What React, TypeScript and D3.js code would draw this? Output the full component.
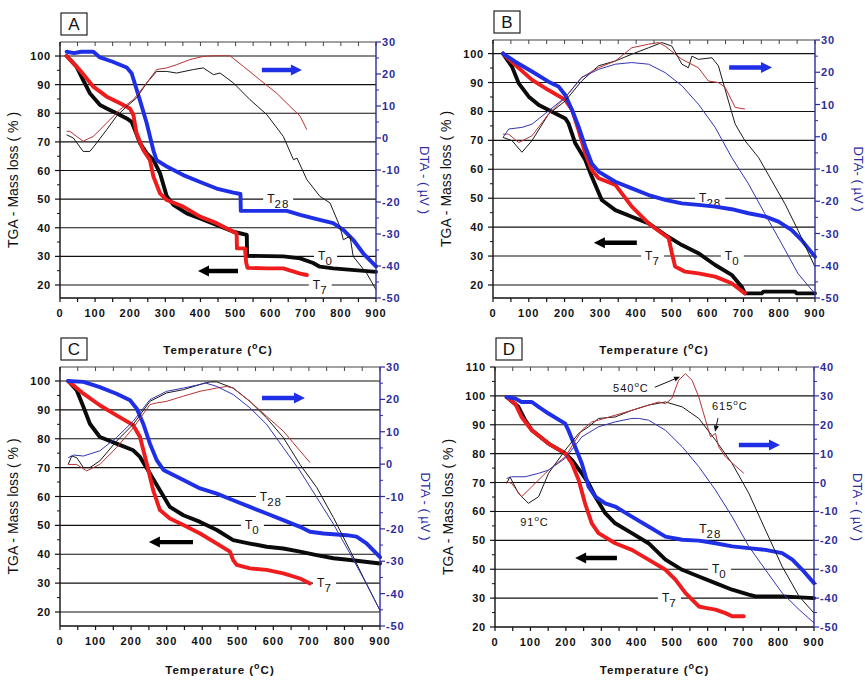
import React from 'react';
import * as d3 from 'd3';

type Pt = [number, number];

// ---------- Panel A (temperature °C, value) ----------
const aT0: Pt[] = [[19,100],[47,96.3],[66,91.6],[85,87],[114,82.9],[133,81.7],[161,80],[190,78.2],[204,77],[214,74],[228,69.5],[247,66],[266,63.7],[285,59],[304,51],[323,48],[361,45],[399,43.3],[446,41],[494,38.6],[532,37.5],[533,30.2],[636,30],[684,29.3],[721,27.7],[740,26.4],[778,25.8],[900,24.6]];
const aT7: Pt[] = [[19,100],[57,95],[95,89.3],[133,85.8],[171,83.5],[199,81.7],[209,79.4],[218,73],[237,67.2],[256,63.7],[266,57.9],[285,52],[304,49.7],[351,47.4],[399,43.9],[446,41.6],[494,38.6],[503,38],[504,32.8],[527,32.8],[530,28],[534,26],[589,25.8],[636,25.8],[684,24],[703,23.5]];
const aT28: Pt[] = [[19,101.5],[40,101],[60,101.5],[95,101.5],[114,99.5],[150,98],[190,96],[204,94],[228,84.4],[247,76.5],[266,67],[275,63.6],[304,61.4],[351,58.4],[399,56],[446,53.7],[494,52.3],[514,51.8],[515,45.9],[646,45.9],[684,44.5],[731,43],[778,41.6],[807,39.3],[835,35.8],[864,31],[900,26.5]];
const aDtaT0: Pt[] = [[19,1],[38,0],[66,-4.2],[85,-4.2],[104,-1.6],[133,2.6],[161,6.8],[190,9.9],[218,12.5],[247,17.2],[275,20.8],[304,20.8],[332,20.3],[380,21.4],[408,21.9],[437,19.8],[456,20.3],[494,17.2],[541,12],[589,7.3],[636,0.5],[665,-6.8],[675,-6.3],[703,-13],[740,-18.2],[769,-20.3],[797,-27.6],[807,-31.8],[826,-30.7],[835,-37],[873,-42.2],[900,-47.4]];
const aDtaT7: Pt[] = [[19,2.1],[28,2.1],[47,0.5],[66,-1],[95,0.5],[133,4.7],[171,8.9],[209,12],[247,17.2],[275,21.4],[304,21.9],[332,22.9],[370,24.5],[408,25.5],[437,25.7],[484,25.7],[522,22.4],[569,18.2],[617,14],[655,9.9],[684,6.8],[703,2.6]];

// ---------- Panel B ----------
const bT0: Pt[] = [[28,100],[53,95.5],[72,89.7],[100,85.1],[128,82.2],[165,79.9],[202,77.6],[211,75.9],[230,69],[258,63.2],[276,57.5],[304,49.4],[342,45.9],[388,43.6],[435,41.3],[481,37.3],[528,33.8],[574,31],[621,26.9],[667,23.5],[695,19.4],[704,17.1],[751,17.1],[756,17.7],[844,17.7],[849,17.1],[900,17.1]];
const bT7: Pt[] = [[28,100],[62,96.1],[109,90.9],[155,87.4],[202,84],[221,80.5],[239,73.6],[258,65.5],[276,59.8],[295,56.9],[342,54.6],[388,47.1],[435,41.3],[472,37.9],[491,36.2],[500,31],[509,26.4],[537,24.6],[574,24],[621,22.9],[667,20.6],[704,17.1]];
const bT28: Pt[] = [[28,100],[62,97.2],[109,93.8],[155,90.3],[183,88.6],[202,85.7],[221,80.5],[239,74.8],[258,67.8],[276,62],[295,59.2],[342,55.7],[388,53.4],[435,51.1],[481,49.4],[528,48.2],[574,47.7],[621,47.1],[667,46.2],[714,44.8],[760,43.7],[798,41.9],[835,39],[862,35.6],[900,29.8]];
const bDtaT0: Pt[] = [[28,-0.2],[53,-1.2],[81,-4.8],[109,-1.2],[155,7],[202,11.1],[248,17.3],[295,22],[342,23.5],[388,25.6],[435,27.6],[472,29.2],[500,28.1],[528,22.5],[546,21.4],[556,25],[574,24],[612,24.5],[630,22],[658,11.1],[677,3.9],[704,-1.2],[742,-6.4],[779,-13.6],[816,-20.8],[853,-29.1],[900,-40.4]];
const bDtaT7: Pt[] = [[28,0.8],[44,0.8],[72,-1.8],[109,0.3],[155,7],[202,12.2],[248,18.4],[295,21.4],[342,23.5],[388,27.6],[435,28.7],[463,29.2],[481,28.1],[528,24],[574,21.4],[602,17.3],[630,16.8],[649,15.3],[677,9.1],[704,8.6]];
const bDtaT28: Pt[] = [[28,-0.2],[44,2.4],[81,2.9],[109,3.9],[155,8],[202,12.2],[248,18.4],[295,20.9],[342,22.5],[388,23],[435,22.5],[481,19.9],[528,15.8],[574,10.1],[621,2.9],[667,-6.4],[714,-14.6],[760,-23.9],[807,-33.2],[853,-42.5],[900,-48.7]];

// ---------- Panel C ----------
const cT0: Pt[] = [[23,100],[47,96.8],[66,91],[84,85.2],[112,80.6],[159,78.3],[206,76],[225,73.7],[253,68],[281,62.2],[309,56.4],[347,53.5],[394,51.2],[441,48.4],[487,44.9],[534,43.7],[581,42.6],[628,42],[675,40.9],[722,39.7],[769,38.6],[816,38],[900,36.8]];
const cT7: Pt[] = [[23,100],[66,95.6],[112,91.6],[159,88.1],[206,84.7],[225,80.6],[244,71.4],[262,62.2],[281,55.3],[309,52.4],[347,50.1],[394,47.2],[441,43.7],[478,40.9],[487,38],[497,36.3],[534,35.1],[581,34.6],[628,33.4],[675,31.6],[703,29.9]];
const cT28: Pt[] = [[23,100],[66,99.7],[112,97.9],[159,95.6],[197,93.3],[216,90.4],[234,85.2],[253,78.3],[272,72.6],[291,69.2],[347,65.7],[394,62.8],[441,61],[487,58.7],[534,56.4],[581,54.1],[628,51.8],[675,49.5],[703,47.8],[741,47.2],[806,46.6],[834,46.1],[862,43.8],[900,39]];
const cDtaT0: Pt[] = [[23,-0.1],[33,2.5],[47,2],[66,-1.1],[84,-1.1],[112,1],[159,7.1],[206,12.3],[253,19.4],[300,22],[347,23],[394,24.6],[422,25.4],[441,25.4],[487,23.5],[534,19.4],[581,14.3],[628,8.2],[675,-0.1],[722,-7.2],[769,-16.5],[816,-26.7],[862,-37],[900,-45.2]];
const cDtaT7: Pt[] = [[23,-0.1],[47,-0.1],[75,-2.1],[112,-0.1],[159,5.1],[206,11.2],[253,18.4],[272,18.9],[300,19.4],[347,21],[394,22.5],[441,23.5],[469,24],[487,23.5],[534,19.4],[581,14.8],[628,10.2],[675,4.1],[703,0.5]];
const cDtaT28: Pt[] = [[23,2],[38,2.8],[66,2.5],[112,4.1],[159,8.2],[206,13.3],[253,19.9],[300,22.5],[347,23.5],[394,24.6],[408,25.1],[441,24],[487,21.5],[534,17.4],[581,12.3],[628,5.1],[675,-2.1],[722,-10.3],[769,-18.5],[816,-27.7],[862,-37],[900,-45.2]];

// ---------- Panel D ----------
const dT0: Pt[] = [[33,99.6],[66,96.2],[85,91.6],[104,88.1],[151,83.5],[198,80.1],[217,77.8],[245,73.2],[264,69.7],[283,65.1],[311,59.4],[339,55.9],[386,52.5],[433,49],[481,43.3],[528,39.8],[575,37.5],[622,35.2],[669,32.9],[716,31.2],[735,30.6],[810,30.6],[900,30]];
const dT7: Pt[] = [[33,99.6],[57,97.3],[75,92.7],[104,88.1],[151,83.5],[198,80.1],[217,76.6],[236,70.9],[254,62.8],[273,55.9],[292,52.5],[339,49],[386,46.7],[433,43.3],[481,39.8],[509,36.4],[537,31.8],[575,27.1],[594,26.6],[622,26],[650,24.8],[669,23.7],[702,23.7]];
const dT28: Pt[] = [[33,99.6],[57,99.1],[75,97.9],[104,97.9],[123,96.2],[151,93.9],[198,90.4],[207,88.1],[226,82.4],[245,76.6],[264,68.6],[283,65.1],[311,62.8],[339,61.7],[386,58.2],[433,54.8],[481,51.3],[528,50.2],[575,49.9],[622,49],[669,47.9],[716,47.3],[763,46.7],[810,45.6],[839,43.3],[867,39.8],[900,35.2]];
const dDtaT0: Pt[] = [[33,-0.3],[42,2],[66,-3.7],[94,-7.2],[123,-4.9],[151,3.2],[198,11.2],[236,17],[264,19.3],[292,22.2],[339,22.7],[386,25],[433,26.8],[481,27.9],[528,26.2],[575,22.2],[622,14.7],[669,6.6],[716,-3.7],[763,-16.4],[810,-29],[858,-39.4],[900,-45.2]];
const dDtaT7: Pt[] = [[33,0.3],[47,-0.3],[75,-4.9],[104,-1.4],[151,4.3],[198,8.9],[245,18.1],[273,21],[292,21.6],[339,23.3],[386,25],[433,26.8],[462,27.9],[481,27.3],[499,29.1],[518,35.4],[537,37.7],[556,35.4],[575,29.6],[594,21.6],[608,15.8],[622,17],[631,12.4],[650,8.9],[702,3.2]];
const dDtaT28: Pt[] = [[33,1.4],[47,2],[85,2],[123,3.2],[151,4.3],[198,8.4],[245,15.8],[292,19.3],[339,21],[386,22.2],[405,22.2],[433,21.6],[481,18.1],[528,12.4],[575,5.5],[622,-2.6],[669,-11.8],[716,-22.1],[763,-30.2],[810,-38.2],[858,-44],[900,-48.6]];

// ---------- Tick values ----------
const tempTicks = [0, 100, 200, 300, 400, 500, 600, 700, 800, 900];
const tempMinor = [50, 150, 250, 350, 450, 550, 650, 750, 850];
const leftTicksABC = [20, 30, 40, 50, 60, 70, 80, 90, 100];
const leftTicksD = [20, 30, 40, 50, 60, 70, 80, 90, 100, 110];
const rightTicksABC = [-50, -40, -30, -20, -10, 0, 10, 20, 30];
const rightTicksD = [-50, -40, -30, -20, -10, 0, 10, 20, 30, 40];
const seriesNames = ['T0', 'T7', 'T28'];

const FONT = "'Liberation Sans', Arial, sans-serif";
const AXBLUE = '#2c2c9e';
const THICK = { T0: '#0a0a0a', T7: '#ee1c1c', T28: '#1f2fe6' };
const THIN = { T0: '#1a1a1a', T7: '#b83232', T28: '#3434b4' };

type Label = { name: string; t: number; v: number; gap: boolean };
type Arrow = { t0: number; t1: number; v: number; color: string };
type Note = { text: string; t: number; v: number; arrow?: [number, number, number, number] };

interface Cfg {
  letter: string;
  x0: number; x1: number; yTop: number; yBot: number;
  leftDomain: [number, number]; rightDomain: [number, number];
  leftTicks: number[]; rightTicks: number[]; grid: number[];
  tga: { T0: Pt[]; T7: Pt[]; T28: Pt[] };
  dta: { T0?: Pt[]; T7?: Pt[]; T28?: Pt[] };
  labels: Label[]; arrows: Arrow[]; notes: Note[];
  titleY: number; dtaTitle: string; dtaX: number;
}

const panels: Cfg[] = [
  {
    letter: 'A', x0: 60, x1: 376, yTop: 42, yBot: 298,
    leftDomain: [15.46, 104.9], rightDomain: [-50, 30],
    leftTicks: leftTicksABC, rightTicks: rightTicksABC, grid: [20, 30, 40, 50, 60, 70, 80, 90, 100],
    tga: { T0: aT0, T7: aT7, T28: aT28 }, dta: { T0: aDtaT0, T7: aDtaT7 },
    labels: [{ name: 'T28', t: 590, v: 50, gap: true }, { name: 'T0', t: 735, v: 30, gap: true }, { name: 'T7', t: 720, v: 20, gap: true }],
    arrows: [{ t0: 575, t1: 689, v: 95.1, color: THICK.T28 }, { t0: 507, t1: 393, v: 24.9, color: '#000' }],
    notes: [], titleY: 354, dtaTitle: 'DTA - ( µV )', dtaX: 420,
  },
  {
    letter: 'B', x0: 493, x1: 815, yTop: 40, yBot: 298,
    leftDomain: [15.5, 104.7], rightDomain: [-50, 30],
    leftTicks: leftTicksABC, rightTicks: rightTicksABC, grid: [20, 30, 40, 50, 60, 70, 80, 90, 100],
    tga: { T0: bT0, T7: bT7, T28: bT28 }, dta: { T0: bDtaT0, T7: bDtaT7, T28: bDtaT28 },
    labels: [{ name: 'T28', t: 576, v: 50, gap: true }, { name: 'T7', t: 425, v: 30, gap: true }, { name: 'T0', t: 648, v: 30, gap: true }],
    arrows: [{ t0: 660, t1: 780, v: 95.2, color: THICK.T28 }, { t0: 402, t1: 282, v: 34.6, color: '#000' }],
    notes: [], titleY: 354, dtaTitle: 'DTA- ( µV )', dtaX: 854,
  },
  {
    letter: 'C', x0: 60, x1: 380, yTop: 367, yBot: 626,
    leftDomain: [15.15, 104.85], rightDomain: [-50, 30],
    leftTicks: leftTicksABC, rightTicks: rightTicksABC, grid: [20, 30, 40, 50, 60, 70, 80, 90, 100],
    tga: { T0: cT0, T7: cT7, T28: cT28 }, dta: { T0: cDtaT0, T7: cDtaT7, T28: cDtaT28 },
    labels: [{ name: 'T28', t: 562, v: 60, gap: true }, { name: 'T0', t: 520, v: 50, gap: true }, { name: 'T7', t: 723, v: 30, gap: true }],
    arrows: [{ t0: 568, t1: 689, v: 94.1, color: THICK.T28 }, { t0: 374, t1: 250, v: 44.2, color: '#000' }],
    notes: [], titleY: 674, dtaTitle: 'DTA - ( µV )', dtaX: 421,
  },
  {
    letter: 'D', x0: 495, x1: 814, yTop: 367, yBot: 627,
    leftDomain: [20, 110], rightDomain: [-50, 40],
    leftTicks: leftTicksD, rightTicks: rightTicksD, grid: [30, 40, 50, 60, 70, 80, 90, 100],
    tga: { T0: dT0, T7: dT7, T28: dT28 }, dta: { T0: dDtaT0, T7: dDtaT7, T28: dDtaT28 },
    labels: [{ name: 'T28', t: 576, v: 54, gap: false }, { name: 'T0', t: 612, v: 40, gap: true }, { name: 'T7', t: 471, v: 30, gap: true }],
    arrows: [{ t0: 688, t1: 804, v: 83, color: THICK.T28 }, { t0: 344, t1: 226, v: 43.9, color: '#000' }],
    notes: [
      { text: '540', t: 333, v: 102.7, arrow: [451, 103, 522, 106.6] },
      { text: '615', t: 612, v: 96.5, arrow: [629, 92.3, 621, 87.6] },
      { text: '91', t: 71, v: 56.3 },
    ],
    titleY: 674, dtaTitle: 'DTA - ( µV )', dtaX: 853,
  },
];

function arrowPath(xa: number, xb: number, y: number): string {
  const dir = xb > xa ? 1 : -1;
  const headLen = 11;
  const xh = xb - dir * headLen;
  const s = 2.2, h = 5.5;
  return `M${xa},${y - s} L${xh},${y - s} L${xh},${y - h} L${xb},${y} L${xh},${y + h} L${xh},${y + s} L${xa},${y + s} Z`;
}

function Panel({ cfg }: { cfg: Cfg }) {
  const x = d3.scaleLinear().domain([0, 900]).range([cfg.x0, cfg.x1]);
  const yL = d3.scaleLinear().domain(cfg.leftDomain).range([cfg.yBot, cfg.yTop]);
  const yR = d3.scaleLinear().domain(cfg.rightDomain).range([cfg.yBot, cfg.yTop]);
  const lineL = d3.line<Pt>().x(d => x(d[0])).y(d => yL(d[1]));
  const lineR = d3.line<Pt>().x(d => x(d[0])).y(d => yR(d[1]));
  const midY = (cfg.yTop + cfg.yBot) / 2 + 10;
  const leftMinor = d3.range(cfg.leftTicks[0] - 5, cfg.leftTicks[cfg.leftTicks.length - 1], 10).filter(v => yL(v) <= cfg.yBot && yL(v) >= cfg.yTop);
  const rightMinor = d3.range(cfg.rightTicks[0] + 5, cfg.rightTicks[cfg.rightTicks.length - 1], 10);

  return (
    <g>
      {/* panel letter */}
      <rect x={cfg.x0 + 1} y={cfg.yTop - 29} width={26} height={22} fill="#fff" stroke="#222" strokeWidth={1.2} />
      <text x={cfg.x0 + 14} y={cfg.yTop - 12} textAnchor="middle" fontFamily={FONT} fontSize={17} fill="#111">{cfg.letter}</text>

      {/* gridlines */}
      {cfg.grid.map(v => (
        <line key={'g' + v} x1={cfg.x0} x2={cfg.x1} y1={yL(v)} y2={yL(v)} stroke="#111" strokeWidth={1.1} />
      ))}

      {/* series labels */}
      {cfg.labels.map(l => {
        const sub = l.name.slice(1);
        const w = 8 + sub.length * 7;
        const lx = x(l.t), ly = yL(l.v);
        return (
          <g key={l.name}>
            {l.gap && <rect x={lx - 4} y={ly - 2} width={w + 8} height={4} fill="#fff" />}
            <text x={lx} y={ly + 4} fontFamily={FONT} fontSize={12} fill="#111">
              T<tspan dy={5} fontSize={11.5} letterSpacing={1}>{sub}</tspan>
            </text>
          </g>
        );
      })}

      {/* TGA thick curves */}
      {seriesNames.map(n => (
        <path key={'tga' + n} d={lineL((cfg.tga as any)[n]) || ''} fill="none" stroke={(THICK as any)[n]} strokeWidth={3.9} strokeLinejoin="round" strokeLinecap="round" />
      ))}

      {/* DTA thin curves */}
      {seriesNames.map(n => {
        const data = (cfg.dta as any)[n] as Pt[] | undefined;
        if (!data) return null;
        return <path key={'dta' + n} d={lineR(data) || ''} fill="none" stroke={(THIN as any)[n]} strokeWidth={1} strokeLinejoin="round" />;
      })}

      {/* arrows */}
      {cfg.arrows.map((a, i) => (
        <path key={'ar' + i} d={arrowPath(x(a.t0), x(a.t1), yL(a.v))} fill={a.color} />
      ))}

      {/* notes */}
      {cfg.notes.map((nt, i) => (
        <g key={'n' + i}>
          <text x={x(nt.t)} y={yL(nt.v) + 4} fontFamily={FONT} fontSize={11} letterSpacing={1} fill="#111">
            {nt.text}<tspan dy={-5} fontSize={8}>o</tspan><tspan dy={5}>C</tspan>
          </text>
          {nt.arrow && (() => {
            const [t0, v0, t1, v1] = nt.arrow!;
            const xa = x(t0), ya = yL(v0), xb = x(t1), yb = yL(v1);
            const ang = Math.atan2(yb - ya, xb - xa);
            const L = 6, W = 2.6;
            const bx = xb - L * Math.cos(ang), by = yb - L * Math.sin(ang);
            const px = -Math.sin(ang) * W, py = Math.cos(ang) * W;
            return (
              <g>
                <line x1={xa} y1={ya} x2={bx} y2={by} stroke="#111" strokeWidth={1} />
                <path d={`M${xb},${yb} L${bx + px},${by + py} L${bx - px},${by - py} Z`} fill="#111" />
              </g>
            );
          })()}
        </g>
      ))}

      {/* top border with ticks */}
      <line x1={cfg.x0} x2={cfg.x1} y1={cfg.yTop} y2={cfg.yTop} stroke="#444" strokeWidth={1.2} />
      {[...tempTicks, ...tempMinor].map(t => (
        <line key={'tt' + t} x1={x(t)} x2={x(t)} y1={cfg.yTop} y2={cfg.yTop + 4} stroke="#444" strokeWidth={1} />
      ))}

      {/* bottom axis */}
      <line x1={cfg.x0} x2={cfg.x1} y1={cfg.yBot} y2={cfg.yBot} stroke="#111" strokeWidth={1.4} />
      {[...tempTicks, ...tempMinor].map(t => (
        <line key={'bt' + t} x1={x(t)} x2={x(t)} y1={cfg.yBot} y2={cfg.yBot + 4} stroke="#111" strokeWidth={1.2} />
      ))}
      {tempTicks.map(t => (
        <text key={'bl' + t} x={x(t)} y={cfg.yBot + 19} textAnchor="middle" fontFamily={FONT} fontSize={11} fontWeight={600} letterSpacing={1} fill="#111">{t}</text>
      ))}

      {/* left axis */}
      <line x1={cfg.x0} x2={cfg.x0} y1={cfg.yTop} y2={cfg.yBot} stroke="#111" strokeWidth={1.4} />
      {cfg.leftTicks.map(v => (
        <g key={'lt' + v}>
          <line x1={cfg.x0 - 5} x2={cfg.x0} y1={yL(v)} y2={yL(v)} stroke="#111" strokeWidth={1.2} />
          <text x={cfg.x0 - 9} y={yL(v) + 4} textAnchor="end" fontFamily={FONT} fontSize={11} fontWeight={600} letterSpacing={0.8} fill="#111">{v}</text>
        </g>
      ))}
      {leftMinor.map(v => (
        <line key={'lm' + v} x1={cfg.x0 - 3} x2={cfg.x0} y1={yL(v)} y2={yL(v)} stroke="#111" strokeWidth={1} />
      ))}

      {/* right axis */}
      <line x1={cfg.x1} x2={cfg.x1} y1={cfg.yTop} y2={cfg.yBot} stroke={AXBLUE} strokeWidth={1.4} />
      {cfg.rightTicks.map(v => (
        <g key={'rt' + v}>
          <line x1={cfg.x1} x2={cfg.x1 + 5} y1={yR(v)} y2={yR(v)} stroke={AXBLUE} strokeWidth={1.2} />
          <text x={cfg.x1 + 6} y={yR(v) + 4} fontFamily={FONT} fontSize={11} fontWeight={600} letterSpacing={0.8} fill={AXBLUE}>{v}</text>
        </g>
      ))}
      {rightMinor.map(v => (
        <line key={'rm' + v} x1={cfg.x1} x2={cfg.x1 + 3} y1={yR(v)} y2={yR(v)} stroke={AXBLUE} strokeWidth={1} />
      ))}

      {/* axis titles */}
      <text transform={`translate(${cfg.x0 - 42},${midY}) rotate(-90)`} textAnchor="middle" fontFamily={FONT} fontSize={14} fill="#111">TGA - Mass loss ( % )</text>
      <text transform={`translate(${cfg.dtaX},${midY}) rotate(90)`} textAnchor="middle" fontFamily={FONT} fontSize={13} fill={AXBLUE}>{cfg.dtaTitle}</text>
      <text x={(cfg.x0 + cfg.x1) / 2} y={cfg.titleY} textAnchor="middle" fontFamily={FONT} fontSize={11.5} fontWeight={600} letterSpacing={1} fill="#111">
        Temperature (<tspan dy={-5} fontSize={9}>o</tspan><tspan dy={5}>C)</tspan>
      </text>
    </g>
  );
}

export default function App() {
  return (
    <svg width={865} height={681} viewBox="0 0 865 681" style={{ display: 'block', position: 'absolute', left: 0, top: 0, background: '#fff' }}>
      <rect x={0} y={0} width={865} height={681} fill="#fff" />
      {panels.map(p => <Panel key={p.letter} cfg={p} />)}
    </svg>
  );
}
